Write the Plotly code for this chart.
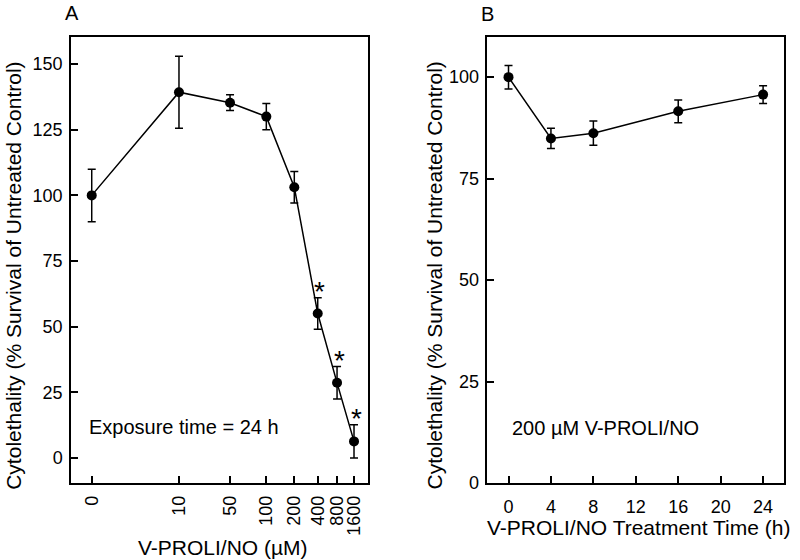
import plotly.graph_objects as go

# Panel A data
conc_labels = ["0", "10", "50", "100", "200", "400", "800", "1600"]
conc_axis_pos = [0, 0.998, 1.582, 1.997, 2.317, 2.585, 2.806, 3.0]
survival_a = [100, 139.3, 135.3, 130.0, 103.1, 55.0, 28.6, 6.3]
err_a = [10, 13.7, 3.0, 5.0, 6.0, 6.0, 6.2, 6.3]
signif_a = [False, False, False, False, False, True, True, True]

# Panel B data
time_h = [0, 4, 8, 16, 24]
survival_b = [100, 84.9, 86.2, 91.6, 95.7]
err_b = [2.9, 2.5, 3.0, 2.8, 2.2]
time_ticks = [0, 4, 8, 12, 16, 20, 24]

FONT = "Liberation Sans, Arial, sans-serif"
W, H = 800, 560
FIG_H = 571

fig = go.Figure()

common = dict(
    mode="lines+markers",
    line=dict(color="black", width=1.5),
    marker=dict(color="black", size=10),
    showlegend=False,
)

fig.add_trace(go.Scatter(
    x=conc_axis_pos, y=survival_a,
    error_y=dict(type="data", array=err_a, color="black", thickness=1.5, width=4),
    xaxis="x", yaxis="y", **common))

fig.add_trace(go.Scatter(
    x=time_h, y=survival_b,
    error_y=dict(type="data", array=err_b, color="black", thickness=1.5, width=4),
    xaxis="x2", yaxis="y2", **common))

axis_style = dict(
    showline=True, linecolor="black", linewidth=1.5, mirror=True,
    ticks="inside", ticklen=7, tickwidth=1.5, tickcolor="black",
    showgrid=False, zeroline=False,
    tickfont=dict(family=FONT, size=18, color="black"),
)

def px_x(p):
    return p / W

def px_y(p):
    return 1 - p / H

fig.update_layout(
    width=W, height=FIG_H,
    margin=dict(l=0, r=0, t=0, b=0),
    paper_bgcolor="white", plot_bgcolor="white",
    font=dict(family=FONT, color="black"),
    xaxis=dict(domain=[px_x(71), px_x(368)], range=[-0.237, 3.160],
               tickmode="array", tickvals=conc_axis_pos, ticktext=conc_labels,
               tickangle=-90, anchor="y", ticklabelstandoff=4, **axis_style),
    yaxis=dict(domain=[px_y(482), px_y(37)], range=[-9.5, 160.3],
               tickmode="array", tickvals=[0, 25, 50, 75, 100, 125, 150],
               anchor="x", ticklabelstandoff=3, **axis_style),
    xaxis2=dict(domain=[px_x(487.3), px_x(784.3)], range=[-2, 26],
                tickmode="array", tickvals=time_ticks,
                anchor="y2", ticklabelstandoff=6, **axis_style),
    yaxis2=dict(domain=[px_y(482.3), px_y(37.3)], range=[0, 109.8],
                tickmode="array", tickvals=[0, 25, 50, 75, 100],
                anchor="x2", ticklabelstandoff=3, **axis_style),
)

annotations = []
# significance stars
for xp, yv, e, s in zip(conc_axis_pos, survival_a, err_a, signif_a):
    if s:
        annotations.append(dict(x=xp, y=yv + e + 5, xref="x", yref="y", text="*",
                                showarrow=False, xanchor="center", yanchor="middle",
                                xshift=2, yshift=-7,
                                font=dict(family=FONT, size=28, color="black")))

annotations += [
    dict(x=-0.057, y=11.9, xref="x", yref="y", text="Exposure time = 24 h",
         showarrow=False, xanchor="left", yanchor="middle",
         font=dict(family=FONT, size=20, color="black")),
    dict(x=0.16, y=13.6, xref="x2", yref="y2", text="200 µM V-PROLI/NO",
         showarrow=False, xanchor="left", yanchor="middle",
         font=dict(family=FONT, size=20, color="black")),
    # panel labels
    dict(x=px_x(72), y=px_y(12.5), xref="paper", yref="paper", text="A",
         showarrow=False, xanchor="center", yanchor="middle",
         font=dict(family=FONT, size=20, color="black")),
    dict(x=px_x(487), y=px_y(14), xref="paper", yref="paper", text="B",
         showarrow=False, xanchor="center", yanchor="middle",
         font=dict(family=FONT, size=20, color="black")),
    # axis titles
    dict(x=px_x(222.5), y=px_y(546.7), xref="paper", yref="paper", text="V-PROLI/NO (µM)",
         showarrow=False, xanchor="center", yanchor="middle",
         font=dict(family=FONT, size=21, color="black")),
    dict(x=px_x(638), y=px_y(526.7), xref="paper", yref="paper", text="V-PROLI/NO Treatment Time (h)",
         showarrow=False, xanchor="center", yanchor="middle",
         font=dict(family=FONT, size=21, color="black")),
    dict(x=px_x(13.3), y=px_y(275), xref="paper", yref="paper",
         text="Cytolethality (% Survival of Untreated Control)", textangle=-90,
         showarrow=False, xanchor="center", yanchor="middle",
         font=dict(family=FONT, size=21, color="black")),
    dict(x=px_x(434), y=px_y(275), xref="paper", yref="paper",
         text="Cytolethality (% Survival of Untreated Control)", textangle=-90,
         showarrow=False, xanchor="center", yanchor="middle",
         font=dict(family=FONT, size=21, color="black")),
]

fig.update_layout(annotations=annotations)

page_fix = (
    "var s=document.documentElement.style;s.margin='0';s.padding='0';s.overflow='hidden';"
    "var b=document.body.style;b.margin='0';b.padding='0';b.overflow='hidden';"
)

fig.write_html("out.html",
               config={"displayModeBar": False},
               post_script=page_fix)
